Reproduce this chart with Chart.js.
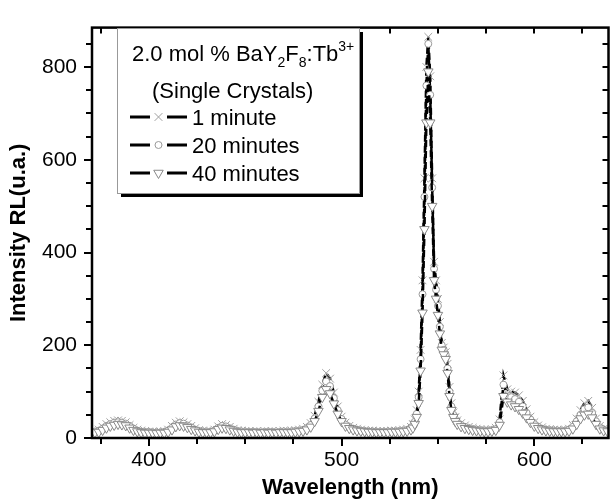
<!DOCTYPE html>
<html>
<head>
<meta charset="utf-8">
<script src="https://cdn.jsdelivr.net/npm/chart.js@4.4.1/dist/chart.umd.min.js"></script>
<style>
  body { margin: 0; background: #fff; }
  #wrap { width: 615px; height: 500px; }
</style>
</head>
<body>
<div id="wrap"><canvas id="chart"></canvas></div>
<script>
// wavelengths (nm), 2 nm step with 1 nm around the main Tb3+ line
var wavelengths = [372,374,376,378,380,382,384,386,388,390,392,394,396,398,400,402,404,406,408,410,
  412,414,416,418,420,422,424,426,428,430,432,434,436,438,440,442,444,446,448,450,
  452,454,456,458,460,462,464,466,468,470,472,474,476,478,480,482,484,486,488,490,
  492,494,496,498,500,502,504,506,508,510,512,514,516,518,520,522,524,526,528,530,
  532,534,536,537,538,539,540,541,542,543,544,545,546,547,548,549,550,551,552,553,
  554,555,556,557,558,559,560,562,564,566,568,570,572,574,576,578,580,582,584,586,
  588,590,592,594,596,598,600,602,604,606,608,610,612,614,616,618,620,622,624,626,
  628,630,632,634,636,638];

var oneMinute = [16,18,24,30,34,37,38,37,34,28,22,18,16,15,14,14,13,14,15,18,
  26,33,36,34,30,26,21,17,16,15,15,18,25,30,28,24,20,17,16,15,
  15,14,15,14,15,14,15,14,15,16,15,16,17,18,20,24,32,48,78,115,
  140,128,98,68,46,33,26,22,20,18,17,16,16,15,15,15,15,16,16,17,
  18,20,24,30,40,60,100,190,340,560,800,865,780,560,380,340,300,250,205,195,
  185,160,110,75,55,45,38,32,27,24,22,20,19,18,18,19,22,40,135,105,
  100,98,92,80,62,46,34,27,23,20,19,18,18,17,18,20,28,42,60,75,
  80,65,42,26,20,18];

var twentyMinutes = [14,15,20,26,30,33,34,33,31,26,20,16,14,13,13,12,12,12,13,16,
  22,29,32,31,27,23,18,15,14,13,13,16,22,26,25,21,18,15,14,13,
  13,13,13,12,13,13,13,12,13,14,13,14,15,16,17,21,28,42,68,102,
  122,112,86,60,41,29,23,20,18,16,15,14,14,13,13,13,14,14,14,15,
  16,17,21,26,35,52,88,170,310,520,760,850,740,540,365,320,285,240,200,190,
  180,150,100,68,50,40,34,28,24,21,19,18,17,16,16,17,19,34,115,92,
  88,84,78,68,54,40,30,24,20,18,17,16,16,15,16,18,24,36,50,62,
  66,54,36,23,18,16];

var fortyMinutes = [12,13,17,22,26,28,30,29,27,22,17,14,12,11,11,11,10,11,11,13,
  18,25,27,26,23,19,16,13,12,12,12,14,19,22,21,18,15,13,12,12,
  12,11,12,11,12,11,12,11,12,12,12,12,13,14,15,18,24,36,58,88,
  105,96,74,52,36,26,21,18,16,15,14,13,13,12,12,12,12,13,13,13,
  14,15,18,22,30,45,75,145,270,450,680,790,680,500,340,300,265,225,190,180,
  170,140,90,60,45,36,30,25,21,19,17,16,15,14,14,15,17,28,90,78,
  72,68,62,54,44,34,26,21,18,16,15,14,14,14,14,15,20,30,42,50,
  52,44,30,20,16,14];

var seriesNames = ['1 minute', '20 minutes', '40 minutes'];
var xTickLabels = [400, 500, 600];
var yTickLabels = [0, 200, 400, 600, 800];
var xMinorStep = 25;
var yMinorStep = 50;

function toPoints(values) {
  return values.map(function (v, i) { return { x: wavelengths[i], y: v }; });
}

// frame, ticks on all four sides, and the boxed legend
var framePlugin = {
  id: 'frame',
  afterDraw: function (chart) {
    var ctx = chart.ctx;
    var a = chart.chartArea;
    var xs = chart.scales.x, ys = chart.scales.y;
    ctx.save();
    ctx.strokeStyle = '#000';
    ctx.lineWidth = 2;
    ctx.beginPath();
    var v, px, major;
    for (v = Math.ceil(xs.min / xMinorStep) * xMinorStep; v <= xs.max; v += xMinorStep) {
      px = Math.round(xs.getPixelForValue(v));
      major = xTickLabels.indexOf(v) >= 0;
      ctx.moveTo(px, a.bottom); ctx.lineTo(px, a.bottom + (major ? 8 : 6));
      ctx.moveTo(px, a.top); ctx.lineTo(px, a.top + 6);
    }
    for (v = 0; v <= ys.max; v += yMinorStep) {
      px = Math.round(ys.getPixelForValue(v));
      major = yTickLabels.indexOf(v) >= 0;
      ctx.moveTo(a.left, px); ctx.lineTo(a.left - (major ? 8 : 6), px);
      ctx.moveTo(a.right, px); ctx.lineTo(a.right - 6, px);
    }
    ctx.stroke();
    ctx.lineWidth = 2.5;
    ctx.strokeRect(a.left, a.top, a.right - a.left, a.bottom - a.top);

    // legend box with shadow
    var bx = 117, by = 28, bw = 242, bh = 165;
    ctx.fillStyle = '#000';
    ctx.fillRect(bx + 4, by + 4, bw, bh);
    ctx.fillStyle = '#fff';
    ctx.fillRect(bx, by, bw, bh);
    ctx.lineWidth = 1;
    ctx.strokeStyle = '#999';
    ctx.strokeRect(bx + 0.5, by + 0.5, bw, bh);

    ctx.fillStyle = '#000';
    ctx.textBaseline = 'alphabetic';
    var big = '22px "Liberation Sans", Arial, sans-serif';
    var small = '14px "Liberation Sans", Arial, sans-serif';
    var parts = [['2.0 mol % BaY', big, 0], ['2', small, 6], ['F', big, 0], ['8', small, 6],
                 [':Tb', big, 0], ['3+', small, -10]];
    var tx = 132;
    parts.forEach(function (p) {
      ctx.font = p[1];
      ctx.fillText(p[0], tx, 61 + p[2]);
      tx += ctx.measureText(p[0]).width;
    });
    ctx.font = big;
    ctx.fillText('(Single Crystals)', 152, 98);

    var rows = [125, 153, 181];
    chart.data.datasets.forEach(function (ds, i) {
      var y = rows[i] - 8;
      ctx.strokeStyle = '#000';
      ctx.lineWidth = 3;
      ctx.setLineDash([]);
      ctx.beginPath();
      ctx.moveTo(130, y); ctx.lineTo(150, y);
      ctx.moveTo(167, y); ctx.lineTo(187, y);
      ctx.stroke();
      ctx.strokeStyle = ds.pointBorderColor;
      ctx.fillStyle = ds.pointBackgroundColor;
      ctx.lineWidth = 1;
      Chart.helpers.drawPoint(ctx, {
        pointStyle: ds.pointStyle, radius: ds.pointRadius,
        rotation: ds.pointRotation || 0, borderWidth: 1
      }, 158.5, y);
      ctx.fillStyle = '#000';
      ctx.font = big;
      ctx.fillText(ds.label, 192, rows[i]);
    });
    ctx.restore();
  }
};

var ctx = document.getElementById('chart').getContext('2d');
var chart = new Chart(ctx, {
  type: 'line',
  data: {
    datasets: [{
      label: seriesNames[0],
      data: toPoints(oneMinute),
      borderColor: '#000',
      borderWidth: 2.5,
      borderDash: [7, 4],
      pointStyle: 'crossRot',
      pointRadius: 5.5,
      pointBorderColor: '#a0a0a0',
      pointBackgroundColor: '#a0a0a0',
      pointBorderWidth: 1,
      order: 3
    }, {
      label: seriesNames[1],
      data: toPoints(twentyMinutes),
      borderColor: '#000',
      borderWidth: 2.5,
      borderDash: [7, 4],
      pointStyle: 'circle',
      pointRadius: 3.5,
      pointBorderColor: '#9a9a9a',
      pointBackgroundColor: '#fff',
      pointBorderWidth: 1,
      order: 2
    }, {
      label: seriesNames[2],
      data: toPoints(fortyMinutes),
      borderColor: '#000',
      borderWidth: 2.5,
      borderDash: [7, 4],
      pointStyle: 'triangle',
      pointRotation: 180,
      pointRadius: 5.5,
      pointBorderColor: '#888',
      pointBackgroundColor: '#fff',
      pointBorderWidth: 1,
      order: 1
    }]
  },
  options: {
    responsive: true,
    maintainAspectRatio: false,
    animation: false,
    layout: { padding: { top: 13, right: 2, left: 0, bottom: 0 } },
    plugins: {
      legend: { display: false },
      tooltip: { enabled: false }
    },
    scales: {
      x: {
        type: 'linear',
        min: 370.5,
        max: 638.5,
        afterFit: function (s) { s.height = 62; },
        afterBuildTicks: function (s) { s.ticks = xTickLabels.map(function (v) { return { value: v }; }); },
        grid: { display: false, drawTicks: false },
        border: { display: false },
        ticks: {
          color: '#000',
          padding: 10,
          maxRotation: 0,
          font: { family: '"Liberation Sans", Arial, sans-serif', size: 21 }
        },
        title: {
          display: true,
          text: 'Wavelength (nm)',
          color: '#000',
          padding: { top: 0, bottom: 1 },
          font: { family: '"Liberation Sans", Arial, sans-serif', size: 22, weight: 'bold', lineHeight: 1 }
        }
      },
      y: {
        min: 0,
        max: 885,
        afterFit: function (s) { s.width = 92; },
        afterBuildTicks: function (s) { s.ticks = yTickLabels.map(function (v) { return { value: v }; }); },
        grid: { display: false, drawTicks: false },
        border: { display: false },
        ticks: {
          color: '#000',
          padding: 15,
          font: { family: '"Liberation Sans", Arial, sans-serif', size: 21 }
        },
        title: {
          display: true,
          text: 'Intensity RL(u.a.)',
          color: '#000',
          padding: { top: 8, bottom: 0 },
          font: { family: '"Liberation Sans", Arial, sans-serif', size: 22, weight: 'bold', lineHeight: 1 }
        }
      }
    }
  },
  plugins: [framePlugin]
});
</script>
</body>
</html>
